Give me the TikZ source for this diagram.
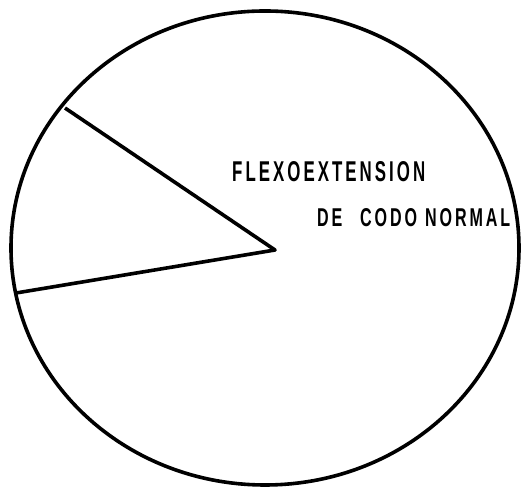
\documentclass[tikz,border=0pt]{standalone}
\usepackage{fontspec}
\setmainfont{Liberation Sans}
\begin{document}
\begin{tikzpicture}[x=1pt,y=1pt,
  ink/.style={line width=3.6pt,black},
  lbl/.style={inner sep=0pt,anchor=west,font=\bfseries\addfontfeature{LetterSpace=18}}]
\useasboundingbox (0,0) rectangle (523,489);
\draw[ink] (265,241) ellipse [x radius=254, y radius=237];
\coordinate (c) at (275,239);
\coordinate (p1) at (65,381);
\coordinate (p2) at (16,196);
\draw[ink,line join=round] (p1) -- (c) -- (p2);
\node[lbl] (t1) at (232,317) {\resizebox{193pt}{20pt}{FLEXOEXTENSION}};
\node[lbl] (t2) at (317,271) {\resizebox{193pt}{18pt}{DE\hspace{1.1em}CODO\hspace{0.5em}NORMAL}};
\end{tikzpicture}
\end{document}
